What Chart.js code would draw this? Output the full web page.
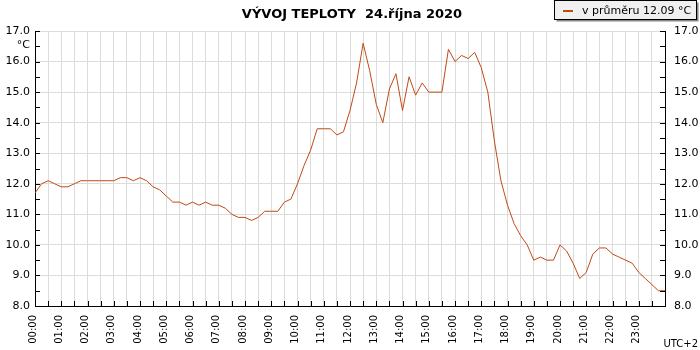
<!DOCTYPE html>
<html>
<head>
<meta charset="utf-8">
<script src="https://cdn.jsdelivr.net/npm/chart.js@4"></script>
<style>
  html, body { margin: 0; padding: 0; background: #fff; }
</style>
</head>
<body>
<canvas id="myChart" width="700" height="350"></canvas>
<script>
const titleText = 'VÝVOJ TEPLOTY  24.října 2020'
const legendText = 'v průměru 12.09 °C'
const unitText = '°C'
const zoneText = 'UTC+2'

// hour labels on the x axis
const hourLabels = [
  '00:00', '01:00', '02:00', '03:00', '04:00', '05:00', '06:00', '07:00',
  '08:00', '09:00', '10:00', '11:00', '12:00', '13:00', '14:00', '15:00',
  '16:00', '17:00', '18:00', '19:00', '20:00', '21:00', '22:00', '23:00'
]

// temperature every 15 minutes, 00:00 .. 24:00
const temps = [
  11.7, 12.0, 12.1, 12.0, 11.9, 11.9, 12.0, 12.1,
  12.1, 12.1, 12.1, 12.1, 12.1, 12.2, 12.2, 12.1,
  12.2, 12.1, 11.9, 11.8, 11.6, 11.4, 11.4, 11.3,
  11.4, 11.3, 11.4, 11.3, 11.3, 11.2, 11.0, 10.9,
  10.9, 10.8, 10.9, 11.1, 11.1, 11.1, 11.4, 11.5,
  12.0, 12.6, 13.1, 13.8, 13.8, 13.8, 13.6, 13.7,
  14.4, 15.3, 16.6, 15.7, 14.6, 14.0, 15.1, 15.6,
  14.4, 15.5, 14.9, 15.3, 15.0, 15.0, 15.0, 16.4,
  16.0, 16.2, 16.1, 16.3, 15.8, 15.0, 13.4, 12.1,
  11.3, 10.7, 10.3, 10.0, 9.5, 9.6, 9.5, 9.5,
  10.0, 9.8, 9.4, 8.9, 9.1, 9.7, 9.9, 9.9,
  9.7, 9.6, 9.5, 9.4, 9.1, 8.9, 8.7, 8.5,
  8.5
]

const yMin = 8
const yMax = 17

const lineColor = 'rgb(192, 74, 20)'
const font = { family: 'DejaVu Sans', size: 11 }
const smallFont = { family: 'DejaVu Sans', size: 10 }

const points = temps.map((t, i) => ({ x: i * 15, y: t }))

const decor = {
  id: 'decor',
  afterDraw: chart => {
    const ctx = chart.ctx
    const { left, right, bottom } = chart.chartArea
    const xs = chart.scales.x
    const ys = chart.scales.y
    ctx.save()

    // inward tick marks
    ctx.strokeStyle = '#000'
    ctx.lineWidth = 1
    ctx.beginPath()
    for (let v = yMin; v <= yMax; v += 0.5) {
      const py = Math.round(ys.getPixelForValue(v)) + 0.5
      ctx.moveTo(left, py)
      ctx.lineTo(left + 5, py)
      ctx.moveTo(right, py)
      ctx.lineTo(right - 5, py)
    }
    for (let m = 0; m <= 1440; m += 30) {
      const px = Math.round(xs.getPixelForValue(m)) + 0.5
      ctx.moveTo(px, bottom)
      ctx.lineTo(px, bottom - 5)
    }
    ctx.stroke()

    // title
    ctx.fillStyle = '#000'
    ctx.font = 'bold 13px "DejaVu Sans"'
    ctx.textAlign = 'center'
    ctx.textBaseline = 'alphabetic'
    ctx.fillText(titleText, 352, 18)

    // unit and zone
    ctx.font = '11px "DejaVu Sans"'
    ctx.textAlign = 'right'
    ctx.fillText(unitText, 30, 48)
    ctx.font = '10px "DejaVu Sans"'
    ctx.fillText(zoneText, 698, 347)

    // legend box
    const bx = 554.5, by = 0.5, bw = 142, bh = 19
    ctx.fillStyle = '#888'
    ctx.fillRect(bx + 2, by + 2, bw, bh)
    ctx.fillStyle = '#f0f0f0'
    ctx.fillRect(bx, by, bw, bh)
    ctx.strokeStyle = '#000'
    ctx.strokeRect(bx, by, bw, bh)
    ctx.strokeStyle = lineColor
    ctx.lineWidth = 2
    ctx.beginPath()
    ctx.moveTo(563, 11)
    ctx.lineTo(573, 11)
    ctx.stroke()
    ctx.fillStyle = '#000'
    ctx.font = '11px "DejaVu Sans"'
    ctx.textAlign = 'left'
    ctx.textBaseline = 'middle'
    ctx.fillText(legendText, 582, 11)
    ctx.restore()
  }
}

const config = {
  type: 'line',
  data: {
    datasets: [
      {
        data: points,
        borderColor: lineColor,
        borderWidth: 1,
        pointRadius: 0,
        tension: 0,
        fill: false,
        yAxisID: 'y'
      }
    ]
  },
  plugins: [decor],
  options: {
    responsive: false,
    animation: false,
    layout: { padding: { top: 31, left: 0, right: 0, bottom: 0 } },
    plugins: {
      legend: { display: false },
      title: { display: false },
      tooltip: { enabled: false }
    },
    scales: {
      x: {
        type: 'linear',
        min: 0,
        max: 1440,
        afterFit: s => { s.height = 44 },
        afterBuildTicks: s => {
          s.ticks = []
          for (let m = 0; m <= 1440; m += 30) s.ticks.push({ value: m })
        },
        ticks: {
          autoSkip: false,
          minRotation: 90,
          maxRotation: 90,
          padding: 9,
          labelOffset: -2,
          color: '#000',
          font: smallFont,
          callback: v => (v % 60 === 0 && v < 1440 ? hourLabels[v / 60] : '')
        },
        grid: { color: '#dcdcdc', drawTicks: false },
        border: { color: '#000' }
      },
      y: {
        position: 'left',
        min: yMin,
        max: yMax,
        afterFit: s => { s.width = 35 },
        ticks: {
          stepSize: 1,
          padding: 5,
          color: '#000',
          font: font,
          callback: v => v.toFixed(1)
        },
        grid: { color: '#dcdcdc', drawTicks: false },
        border: { color: '#000' }
      },
      y2: {
        position: 'right',
        min: yMin,
        max: yMax,
        afterFit: s => { s.width = 35 },
        ticks: {
          stepSize: 1,
          padding: 9,
          color: '#000',
          font: font,
          callback: v => v.toFixed(1)
        },
        grid: { display: false, drawTicks: false },
        border: { color: '#000' }
      }
    }
  }
}

const chart = new Chart(document.getElementById('myChart'), config)
</script>
</body>
</html>
